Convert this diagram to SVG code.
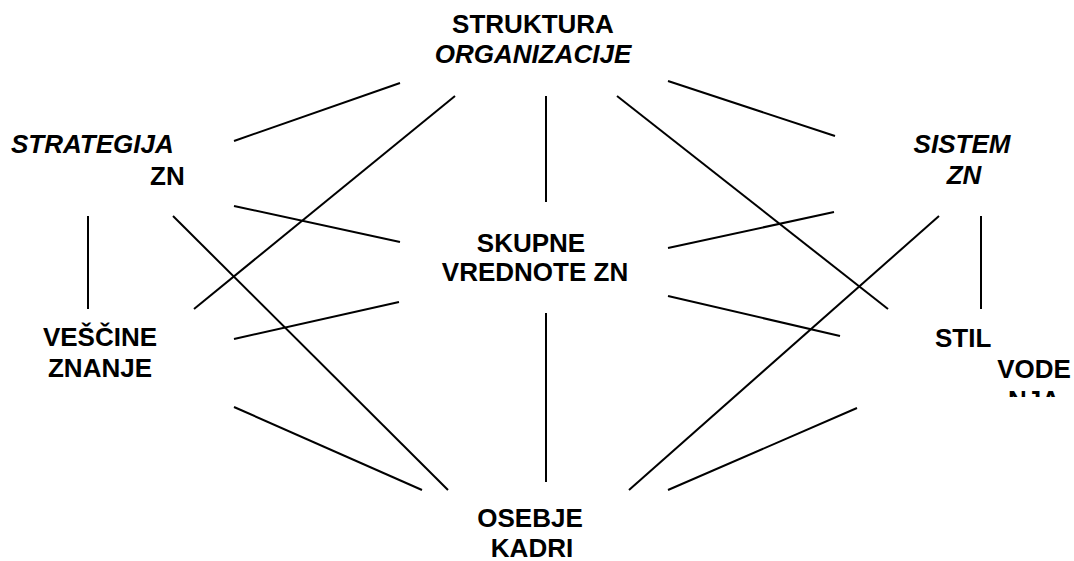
<svg xmlns="http://www.w3.org/2000/svg" width="1074" height="561" viewBox="0 0 1074 561">
<style>
text{font-family:"Liberation Sans",Arial,sans-serif;font-size:26px;font-weight:bold;fill:#000}
.i{font-style:italic}
.m{text-anchor:middle}
.c line{stroke:#000;stroke-width:2}
</style>
<defs><clipPath id="clipStil"><rect x="900" y="300" width="174" height="97"/></clipPath></defs>
<rect width="1074" height="561" fill="#fff"/>
<g class="c" id="connectors">
<line x1="234" y1="141" x2="400" y2="83"/>
<line x1="455" y1="96" x2="194" y2="309"/>
<line x1="546" y1="96" x2="546" y2="202"/>
<line x1="617" y1="96" x2="888" y2="309"/>
<line x1="668" y1="81" x2="835" y2="136"/>
<line x1="234" y1="206" x2="400" y2="242"/>
<line x1="173" y1="216" x2="448" y2="490"/>
<line x1="88" y1="216" x2="88" y2="309"/>
<line x1="668" y1="248" x2="834" y2="212"/>
<line x1="939" y1="216" x2="629" y2="490"/>
<line x1="981" y1="216" x2="981" y2="309"/>
<line x1="234" y1="339" x2="399" y2="302"/>
<line x1="668" y1="296" x2="840" y2="336"/>
<line x1="234" y1="407" x2="422" y2="490"/>
<line x1="546" y1="313" x2="546" y2="482"/>
<line x1="668" y1="490" x2="857" y2="408"/>
</g>
<g id="struktura">
<text class="m" x="533" y="33">STRUKTURA</text>
<text class="m i" x="533" y="63">ORGANIZACIJE</text>
</g>
<g id="strategija">
<text class="i" x="11" y="153">STRATEGIJA</text>
<text x="150" y="185">ZN</text>
</g>
<g id="sistem">
<text class="m i" x="962" y="153">SISTEM</text>
<text class="m i" x="964" y="184">ZN</text>
</g>
<g id="skupne">
<text class="m" x="531" y="252">SKUPNE</text>
<text class="m" x="535" y="281">VREDNOTE ZN</text>
</g>
<g id="vescine">
<text class="m" x="100" y="346">VEŠČINE</text>
<text class="m" x="100" y="377">ZNANJE</text>
</g>
<g id="stil" clip-path="url(#clipStil)">
<text x="935" y="347">STIL</text>
<text class="m" x="1034" y="378">VODE</text>
<text class="m" x="1034" y="409">NJA</text>
</g>
<g id="osebje">
<text class="m" x="530" y="527">OSEBJE</text>
<text class="m" x="532" y="557">KADRI</text>
</g>
</svg>
